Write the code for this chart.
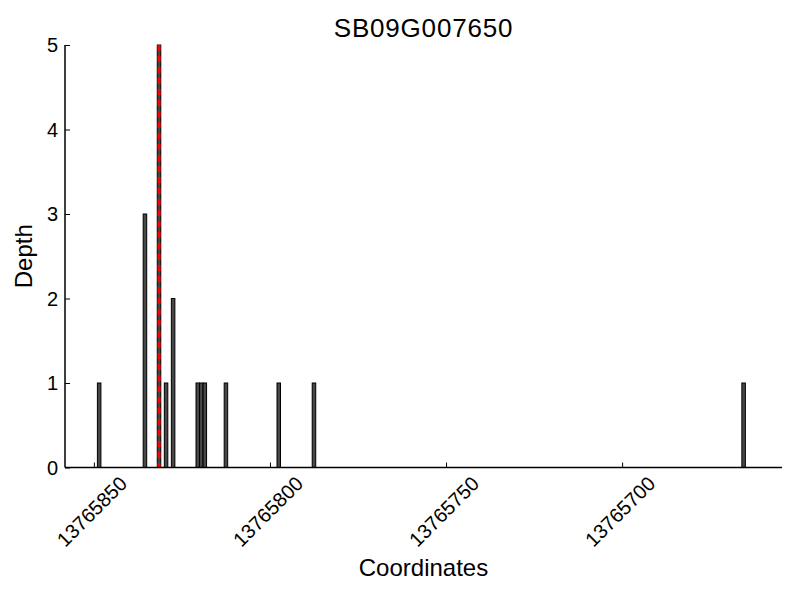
<!DOCTYPE html>
<html>
<head>
<meta charset="utf-8">
<script src="https://cdn.jsdelivr.net/npm/d3@7"></script>
<style>
  body { margin: 0; background: #fff; }
  text { font-family: "Liberation Sans", Arial, sans-serif; fill: #000; }
</style>
</head>
<body>
<div id="depth-plot"></div>
<script>
// data
let title = "SB09G007650";
let positions = [13765849, 13765836, 13765832, 13765830, 13765828, 13765821, 13765820, 13765819, 13765813, 13765798, 13765788, 13765666];
let depths = [1, 3, 5, 1, 2, 1, 1, 1, 1, 1, 1, 1];
let markerPosition = 13765832;
let xTicks = [13765850, 13765800, 13765750, 13765700];
let yTicks = [0, 1, 2, 3, 4, 5];
let xDomain = [13765858.2, 13765654.6];
let yDomain = [0, 5];

let width = 800;
let height = 600;
let padding = { top: 45, right: 18, bottom: 132.5, left: 65 };

// Set scale
let xScale = d3
  .scaleLinear()
  .domain(xDomain)
  .range([padding.left, width - padding.right]);
let yScale = d3
  .scaleLinear()
  .domain(yDomain)
  .range([height - padding.bottom, padding.top]);

// create svg
let svg = d3
  .select("#depth-plot")
  .append("svg")
  .attr("width", width)
  .attr("height", height);

// bars
svg
  .append("g")
  .selectAll(".depthBar")
  .data(Array.from(Array(positions.length).keys()))
  .enter()
  .append("rect")
  .attr("class", "depthBar")
  .attr("x", i => xScale(positions[i]))
  .attr("y", i => yScale(depths[i]))
  .attr("width", i => xScale(positions[i] - 1) - xScale(positions[i]))
  .attr("height", i => yScale(0) - yScale(depths[i]))
  .attr("fill", "#474747")
  .attr("stroke", "#000")
  .attr("stroke-width", 1);

// red dashed marker
svg
  .append("line")
  .attr("x1", xScale(markerPosition - 0.5))
  .attr("x2", xScale(markerPosition - 0.5))
  .attr("y1", yScale(yDomain[1]))
  .attr("y2", yScale(0))
  .attr("stroke", "#ff0000")
  .attr("stroke-width", 3)
  .attr("stroke-dasharray", "6,5");

// Y axis (ticks pointing inward)
let yAxis = d3
  .axisRight(yScale)
  .tickValues(yTicks)
  .tickSize(5)
  .tickFormat("");
let yAxisG = svg
  .append("g")
  .attr("transform", `translate(${padding.left}, 0)`)
  .call(yAxis);
yAxisG.select(".domain").attr("stroke-width", 1.5).attr("d", `M0,${yScale(0)}V${yScale(yDomain[1])}`);
yAxisG.selectAll(".tick line").attr("stroke-width", 1);

svg
  .append("g")
  .selectAll(".yLabel")
  .data(yTicks)
  .enter()
  .append("text")
  .attr("x", padding.left - 7)
  .attr("y", d => yScale(d))
  .attr("dy", "0.35em")
  .style("text-anchor", "end")
  .style("font-size", "20px")
  .text(d => d);

// X axis (ticks pointing inward)
let xAxis = d3
  .axisTop(xScale)
  .tickValues(xTicks)
  .tickSize(5)
  .tickFormat("");
let xAxisG = svg
  .append("g")
  .attr("transform", `translate(0, ${yScale(0)})`)
  .call(xAxis);
xAxisG.select(".domain").attr("stroke-width", 1.5).attr("d", `M${padding.left},0H${width - padding.right}`);
xAxisG.selectAll(".tick line").attr("stroke-width", 1);

svg
  .append("g")
  .selectAll(".xLabel")
  .data(xTicks)
  .enter()
  .append("text")
  .attr("transform", d => `translate(${xScale(d) - 2}, ${yScale(0) + 44}) rotate(-45)`)
  .attr("dy", "0.35em")
  .style("text-anchor", "middle")
  .style("font-size", "20px")
  .text(d => d);

// Axis labels
svg
  .append("text")
  .attr("x", (padding.left + width - padding.right) / 2)
  .attr("y", 576)
  .style("text-anchor", "middle")
  .style("font-size", "24px")
  .text("Coordinates");

svg
  .append("text")
  .attr("transform", `translate(32, ${(yScale(0) + yScale(yDomain[1])) / 2}) rotate(-90)`)
  .style("text-anchor", "middle")
  .style("font-size", "24px")
  .text("Depth");

// Title
svg
  .append("text")
  .attr("x", (padding.left + width - padding.right) / 2)
  .attr("y", 37)
  .style("text-anchor", "middle")
  .style("font-size", "26px")
  .style("letter-spacing", "0.8px")
  .text(title);
</script>
</body>
</html>
